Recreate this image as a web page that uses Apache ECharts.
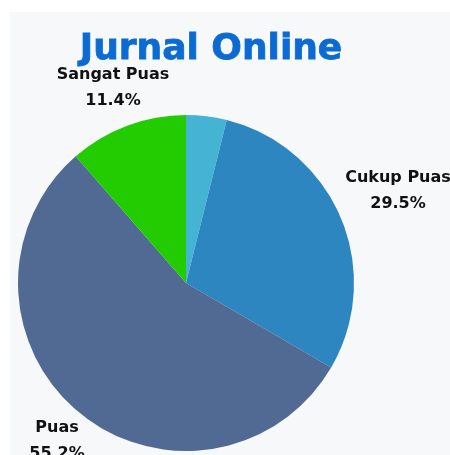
<!DOCTYPE html>
<html>
<head>
<meta charset="utf-8">
<script src="https://cdn.jsdelivr.net/npm/echarts@6/dist/echarts.min.js"></script>
<style>
  html, body { margin: 0; padding: 0; background: #fff; }
  #chart { width: 450px; height: 455px; }
</style>
</head>
<body>
<div id="chart"></div>
<script>
// data
var categories = ['Kurang Puas', 'Cukup Puas', 'Puas', 'Sangat Puas'];
var values = [3.9, 29.5, 55.2, 11.4];
var showLabel = [false, true, true, true];
var colors = ['#45b4d4', '#2e86c1', '#506a93', '#22cc00'];

// label spots (px) for each slice
var labelSpots = [[0, 0], [398, 191], [57, 441], [113, 88]];

var chart = echarts.init(document.getElementById('chart'));

var pieData = categories.map(function (name, i) {
  return {
    name: name,
    value: values[i],
    itemStyle: { color: colors[i] },
    label: { show: showLabel[i] }
  };
});

var option = {
  animation: false,
  title: {
    text: 'Jurnal Online',
    left: 206,
    top: 27,
    textAlign: 'center',
    textStyle: {
      fontFamily: 'DejaVu Sans',
      fontWeight: 'bold',
      fontSize: 36,
      color: '#0b6bd3',
      textBorderColor: '#0b6bd3',
      textBorderWidth: 0.8
    }
  },
  graphic: [{
    type: 'rect',
    z: -10,
    shape: { x: 10, y: 12, width: 440, height: 443 },
    style: { fill: '#f7f8fa' }
  }],
  series: [{
    type: 'pie',
    center: [186, 283],
    radius: 168,
    startAngle: 90,
    clockwise: true,
    data: pieData,
    label: {
      position: 'outside',
      overflow: 'none',
      formatter: function (p) { return p.name + '\n' + p.value + '%'; },
      fontFamily: 'DejaVu Sans',
      fontWeight: 'bold',
      fontSize: 16,
      lineHeight: 26,
      color: '#111',
      align: 'center'
    },
    labelLine: { show: false },
    labelLayout: function (p) {
      var s = labelSpots[p.dataIndex];
      return { x: s[0], y: s[1], align: 'center', verticalAlign: 'middle' };
    }
  }]
};

chart.setOption(option);
</script>
</body>
</html>
